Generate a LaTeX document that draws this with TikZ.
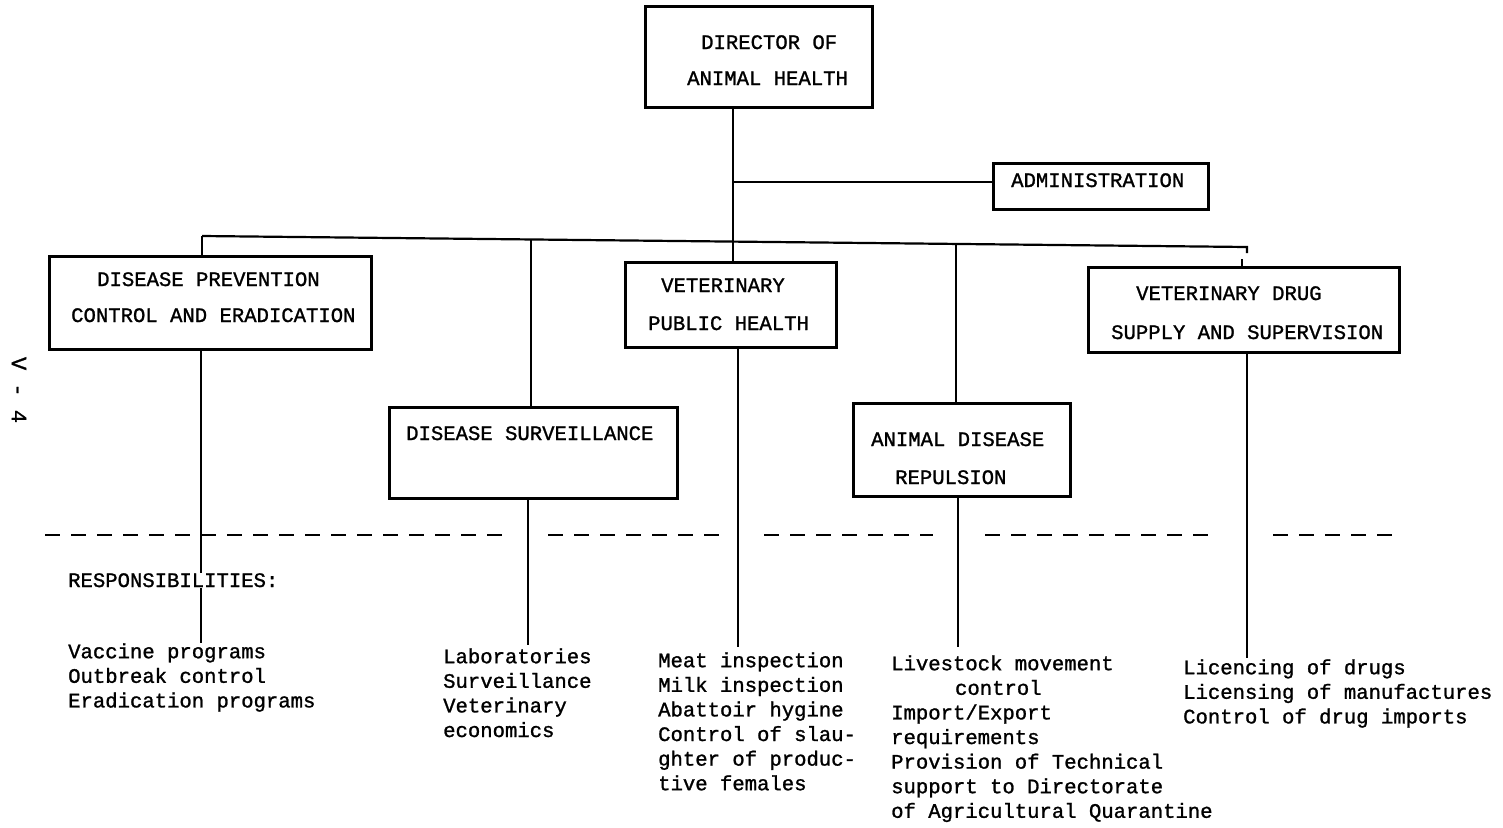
\documentclass[tikz,border=0pt]{standalone}
\usepackage{fontspec}
\newfontfamily\typewr[FakeBold=1.2]{Liberation Mono}
\usetikzlibrary{calc}
% invisible rule giving every text block the same first-line height
\newcommand\lnstrut{\rule{0pt}{18pt}}

\begin{document}
\begin{tikzpicture}[x=1pt,y=-1pt,
  orgbox/.style={draw, line width=3pt, inner sep=0pt},
  boxtext/.style={font=\typewr\fontsize{20.6}{24.6}\selectfont, inner sep=0pt, anchor=base west},
  resptext/.style={font=\typewr\fontsize{20.6}{24.6}\selectfont, inner sep=0pt, anchor=north west, align=left},
  link/.style={line width=2.2pt},
  sepline/.style={line width=2.8pt, dash pattern=on 15pt off 11pt}]

\useasboundingbox (0,0) rectangle (1503,827);

% ---------- boxes ----------
\node[orgbox, minimum width=227pt, minimum height=101pt] (dir) at (758.5,56.5) {};
\node[orgbox, minimum width=215pt, minimum height=46pt]  (adm) at (1100.5,186) {};
\node[orgbox, minimum width=322pt, minimum height=93pt]  (prev) at (210,302.5) {};
\node[orgbox, minimum width=288pt, minimum height=91pt]  (surv) at (533,452.5) {};
\node[orgbox, minimum width=211pt, minimum height=85pt]  (vph) at (730.5,304.5) {};
\node[orgbox, minimum width=217pt, minimum height=93pt]  (rep) at (961.5,449.5) {};
\node[orgbox, minimum width=311pt, minimum height=85pt]  (drug) at (1243.5,309.5) {};

% ---------- box texts ----------
\node[boxtext] (dir1) at (701,49) {DIRECTOR OF};
\node[boxtext] (dir2) at (687,85) {ANIMAL HEALTH};
\node[boxtext] (adm1) at (1011,187) {ADMINISTRATION};
\node[boxtext] (prev1) at (97,286) {DISEASE PREVENTION};
\node[boxtext] (prev2) at (71,322) {CONTROL AND ERADICATION};
\node[boxtext] (surv1) at (406,440) {DISEASE SURVEILLANCE};
\node[boxtext] (vph1) at (661,292) {VETERINARY};
\node[boxtext] (vph2) at (648,330) {PUBLIC HEALTH};
\node[boxtext] (rep1) at (871,446) {ANIMAL DISEASE};
\node[boxtext] (rep2) at (895,484) {REPULSION};
\node[boxtext] (drug1) at (1136,300) {VETERINARY DRUG};
\node[boxtext] (drug2) at (1111,339) {SUPPLY AND SUPERVISION};

% ---------- connectors above the boxes ----------
\coordinate (top) at (733,241.6);
\coordinate (admj) at (733,182);
\coordinate (b1) at (202,236);
\coordinate (b2) at (531,239.5);
\coordinate (b4) at (956,244);
\coordinate (b5) at (1247,247);
\coordinate (b5a) at (1247,253);
\coordinate (t5a) at (1242,259);

\draw[link] (dir.south -| top) -- (top);
\draw[link] (admj) -- (adm.west |- admj);
\draw[link] (b1) -- (b5) -- (b5a);
\draw[link] (b1) -- (prev.north -| b1);
\draw[link] (b2) -- (surv.north -| b2);
\draw[link] (top) -- (vph.north -| top);
\draw[link] (b4) -- (rep.north -| b4);
\draw[link] (t5a) -- (drug.north -| t5a);

% ---------- separator ----------
\draw[sepline] (45,535) -- (505,535);
\draw[sepline] (548,535) -- (726,535);
\draw[sepline] (764,535) -- (933,535);
\draw[sepline] (985,535) -- (1217,535);
\draw[sepline] (1273,535) -- (1403,535);

% ---------- responsibilities ----------
\node[boxtext] (resp) at (68,587) {RESPONSIBILITIES:};

\node[resptext] (rprev) at (68,640) {\lnstrut Vaccine programs\\Outbreak control\\Eradication programs};
\node[resptext] (rsurv) at (443,645) {\lnstrut Laboratories\\Surveillance\\Veterinary\\economics};
\node[resptext] (rvph) at (658,649) {\lnstrut Meat inspection\\Milk inspection\\Abattoir hygine\\Control of slau-\\ghter of produc-\\tive females};
\node[resptext] (rrep) at (891,652) {\lnstrut Livestock movement\\\hspace*{3.1em}control\\Import/Export\\requirements\\Provision of Technical\\support to Directorate\\of Agricultural Quarantine};
\node[resptext] (rdrug) at (1183,656) {\lnstrut Licencing of drugs\\Licensing of manufactures\\Control of drug imports};

% ---------- connectors below the boxes ----------
\coordinate (e1a) at (201,573);
\coordinate (e1b) at (201,588);
\coordinate (e1c) at (201,643);
\coordinate (e2) at (528,645);
\coordinate (e3) at (738,647);
\coordinate (e4) at (958,647);
\coordinate (e5) at (1247,658);

\draw[link] (prev.south -| e1a) -- (e1a);
\draw[link] (e1b) -- (e1c);
\draw[link] (surv.south -| e2) -- (e2);
\draw[link] (vph.south -| e3) -- (e3);
\draw[link] (rep.south -| e4) -- (e4);
\draw[link] (drug.south -| e5) -- (e5);

% ---------- page number ----------
\node[font=\typewr\fontsize{22}{26}\selectfont, inner sep=0pt, rotate=-90] (pageno) at (19,390) {V - 4};

\end{tikzpicture}
\end{document}
